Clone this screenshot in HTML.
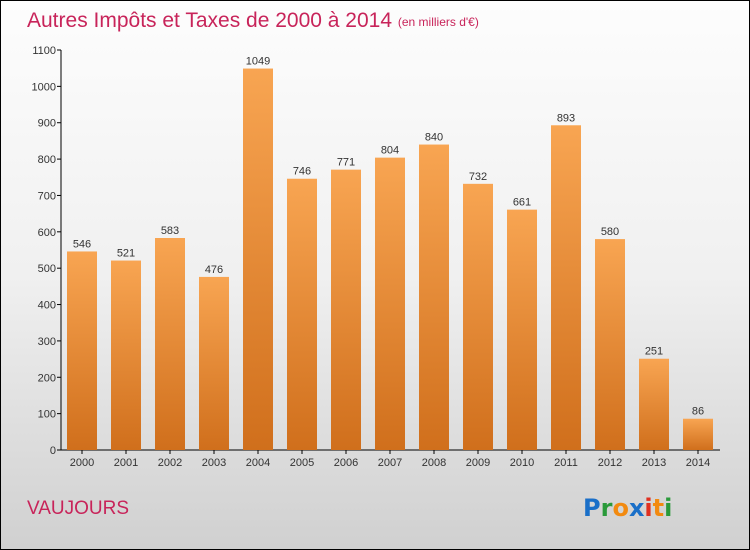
<!DOCTYPE html>
<html><head><meta charset="utf-8"><style>
body{margin:0;}
#wrap{width:748px;height:548px;border:1px solid #000;background:linear-gradient(#fdfdfd 0%,#f0f0f0 50%,#d0d0d0 100%);position:relative;overflow:hidden;font-family:"Liberation Sans",sans-serif;}
</style></head><body>
<div id="wrap">
<svg id="chart" width="748" height="548">
<defs><linearGradient id="bg" x1="0" y1="0" x2="0" y2="1"><stop offset="0" stop-color="#f8a552"/><stop offset="1" stop-color="#d06f1c"/></linearGradient></defs>
<text x="26" y="26" font-size="21" fill="#c8245a">Autres Impôts et Taxes de 2000 à 2014 <tspan font-size="12" dy="-1">(en milliers d'€)</tspan></text>
<text x="26" y="513" font-size="19" fill="#c8245a">VAUJOURS</text>
<g font-size="24" font-weight="bold" font-family="'DejaVu Sans',sans-serif">
<text x="582" y="515"><tspan fill="#1a6fc8">P</tspan><tspan fill="#2a9a3a">r</tspan><tspan fill="#f28a10">o</tspan><tspan fill="#1a6fc8">x</tspan><tspan fill="#e03020">i</tspan><tspan fill="#f28a10">t</tspan><tspan fill="#2a9a3a">i</tspan></text></g>
<g id="plot"></g>
</svg>
</div>
<script>
const categories=["2000","2001","2002","2003","2004","2005","2006","2007","2008","2009","2010","2011","2012","2013","2014"];
const values=[546,521,583,476,1049,746,771,804,840,732,661,893,580,251,86];
const yTicks=[0,100,200,300,400,500,600,700,800,900,1000,1100];
const NS="http://www.w3.org/2000/svg";
const g=document.getElementById('plot');
const y=v=>449-v*400/1100;
const x=i=>81+i*44;
function mk(t,a){const e=document.createElementNS(NS,t);for(const k in a)e.setAttribute(k,a[k]);g.appendChild(e);return e;}
let ax=mk('line',{x1:60,y1:49,x2:60,y2:449,stroke:'#000'});


let bx=mk('line',{x1:60,y1:449,x2:719,y2:449,stroke:'#000'});


yTicks.forEach(v=>{
 let l=mk('line',{x1:56,x2:60,y1:y(v),y2:y(v),stroke:'#000'});
 
 
 let t=mk('text',{x:55,y:y(v)+4,'text-anchor':'end','font-size':11,fill:'#333'});
 t.textContent=v;
 
 
});
values.forEach((v,i)=>{
 let r=mk('rect',{x:x(i)-15,y:y(v),width:30,height:449-y(v),fill:'url(#bg)'});
 
 
 let t=mk('text',{x:x(i),y:y(v)-4,'text-anchor':'middle','font-size':11,fill:'#333'});
 t.textContent=v;
 
 
 let tk=mk('line',{x1:x(i),x2:x(i),y1:449,y2:453,stroke:'#000'});
 
 
 let c=mk('text',{x:x(i),y:465,'text-anchor':'middle','font-size':11,fill:'#333'});
 c.textContent=categories[i];
 
 
});
</script>
</body></html>
